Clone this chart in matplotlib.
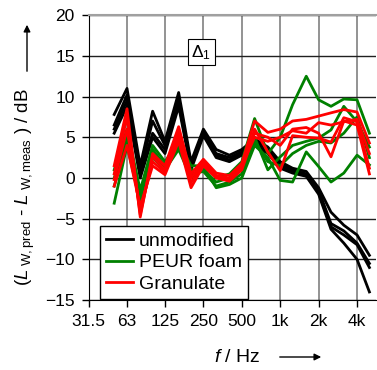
import matplotlib
matplotlib.use("Agg")
import matplotlib.pyplot as plt

plt.rcParams['font.family'] = ['Liberation Sans', 'DejaVu Sans']
plt.rcParams['mathtext.fontset'] = 'custom'
plt.rcParams['mathtext.rm'] = 'Liberation Sans'
plt.rcParams['mathtext.it'] = 'Liberation Sans:italic'

# terzbaender
freqs = [50, 63, 80, 100, 125, 160, 200, 250, 315, 400, 500, 630, 800,
         1000, 1250, 1600, 2000, 2500, 3150, 4000, 5000]

unmod = [
    [7.8, 11.0, 1.5, 8.2, 4.5, 10.5, 2.0, 6.0, 3.5, 2.8, 3.5, 4.8, 3.8, 2.0, 1.2, 0.8, -1.2, -4.2, -5.8, -7.0, -9.5],
    [6.5, 10.2, 0.8, 7.0, 4.0, 9.8, 1.6, 5.5, 3.0, 2.5, 3.2, 4.5, 3.5, 1.8, 1.0, 0.5, -1.5, -5.6, -6.5, -8.0, -10.5],
    [6.0, 9.5, 0.5, 5.5, 3.5, 9.2, 1.3, 5.8, 2.8, 2.2, 3.0, 4.2, 3.2, 1.5, 0.8, 0.3, -1.8, -6.0, -7.0, -8.2, -11.0],
    [5.5, 8.8, 0.0, 5.0, 3.0, 8.8, 1.0, 5.2, 2.5, 2.0, 2.8, 4.0, 3.0, 1.2, 0.6, 0.2, -2.0, -6.3, -8.0, -10.0, -14.0],
]
peur = [
    [1.0, 6.0, -1.5, 4.0, 2.0, 4.5, 1.5, 1.5, 0.0, 0.5, 2.0, 7.3, 3.0, 5.0, 9.0, 12.5, 9.6, 8.8, 9.7, 9.6, 5.5],
    [0.0, 5.0, -2.0, 3.5, 1.5, 4.0, 1.0, 1.0, -0.5, 0.0, 1.5, 5.0, 1.0, 2.6, 4.0, 4.5, 4.9, 5.9, 8.8, 6.9, 3.8],
    [-1.0, 4.5, -2.5, 3.0, 1.2, 3.8, 0.5, 0.8, -1.0, -0.5, 0.5, 4.5, 2.0, 1.5, 3.0, 4.0, 4.5, 4.3, 5.5, 7.5, 2.5],
    [-3.1, 4.0, -3.0, 2.5, 1.0, 3.5, 0.0, 1.4, -1.2, -0.8, 0.0, 4.0, 2.5, -0.3, -0.5, 3.2, 1.4, -0.5, 0.6, 2.8, 1.6],
]
granulat = [
    [1.5, 8.5, -4.8, 3.0, 1.5, 6.3, 0.5, 2.3, 0.6, 0.3, 1.8, 7.0, 5.6, 6.0, 7.0, 7.2, 7.6, 8.0, 8.4, 8.1, 4.3],
    [0.5, 7.5, -4.5, 2.6, 1.0, 5.6, 0.0, 2.0, 0.3, 0.0, 1.5, 5.0, 4.5, 5.0, 5.8, 5.5, 6.8, 6.5, 6.9, 7.2, 3.0],
    [-0.2, 6.0, -4.0, 2.0, 0.7, 5.0, -0.6, 1.8, 0.2, -0.2, 1.2, 6.0, 3.2, 0.9, 5.2, 5.0, 4.9, 4.4, 7.4, 6.9, 1.2],
    [-1.0, 4.0, -3.5, 1.5, 0.4, 4.5, -1.2, 1.5, 0.0, -0.4, 1.0, 5.5, 5.0, 4.0, 6.0, 6.2, 5.5, 2.6, 7.0, 6.5, 0.5],
]

xticks = [31.5, 63, 125, 250, 500, 1000, 2000, 4000]
xticklabels = ['31.5', '63', '125', '250', '500', '1k', '2k', '4k']
yticks = [-15, -10, -5, 0, 5, 10, 15, 20]

fig = plt.figure(figsize=(3.77, 3.70), dpi=100)
ax = fig.add_axes([0.235, 0.189, 0.763, 0.770])

for i, werte in enumerate(unmod):
    ax.plot(freqs, werte, color='black', lw=2, label='unmodified' if i == 0 else None)
for i, werte in enumerate(peur):
    ax.plot(freqs, werte, color='#008000', lw=2, label='PEUR foam' if i == 0 else None)
for i, werte in enumerate(granulat):
    ax.plot(freqs, werte, color='#ff0000', lw=2, label='Granulate' if i == 0 else None)

ax.set_xscale('log', base=2)
ax.set_xlim(31.5, 4000 * 2 ** 0.5)
ax.set_ylim(-15, 20)
ax.set_xticks(xticks)
ax.set_xticklabels(xticklabels)
ax.minorticks_off()
ax.set_yticks(yticks)
ax.tick_params(direction='out', length=5, width=1, labelsize=12.5, colors='black', pad=5)

ax.grid(True, axis='x', color='#808080', lw=1.2)
ax.grid(True, axis='y', color='#202020', lw=1.0)
ax.set_axisbelow(True)
ax.spines['right'].set_visible(False)
ax.spines['top'].set_color('#a0a0a0')
ax.spines['top'].set_linewidth(1.5)

leg = ax.legend(loc='lower left', bbox_to_anchor=(0.04, 0.005), fontsize=14,
                frameon=True, fancybox=False, framealpha=1, edgecolor='black',
                handlelength=1.4, borderpad=0.3, labelspacing=0.2, handletextpad=0.3,
                borderaxespad=0.0)
leg.get_frame().set_linewidth(1.0)

ax.text(0.392, 0.87, r'$\Delta_1$', transform=ax.transAxes, ha='center', va='center',
        fontsize=12.5, bbox=dict(boxstyle='square,pad=0.22', fc='white', ec='black', lw=0.8))

# achsentitel mit pfeilen
fig.text(25 / 377, 1 - 187 / 370, r'($L_{\rm\ W,pred}$ - $L_{\rm\ W,meas}$ ) / dB',
         rotation=90, ha='center', va='center', fontsize=13.5)
fig.text(237 / 377, 1 - 358 / 370, r'$f$ / Hz', ha='center', va='center', fontsize=14)
fig.patches.append(matplotlib.patches.FancyArrowPatch(
    (27 / 377, 1 - 74 / 370), (27 / 377, 1 - 22 / 370), transform=fig.transFigure,
    arrowstyle='-|>,head_length=4,head_width=2', color='black', lw=1))
fig.patches.append(matplotlib.patches.FancyArrowPatch(
    (277 / 377, 1 - 357 / 370), (324 / 377, 1 - 357 / 370), transform=fig.transFigure,
    arrowstyle='-|>,head_length=4,head_width=2', color='black', lw=1))

fig.savefig('out.png', dpi=100)
